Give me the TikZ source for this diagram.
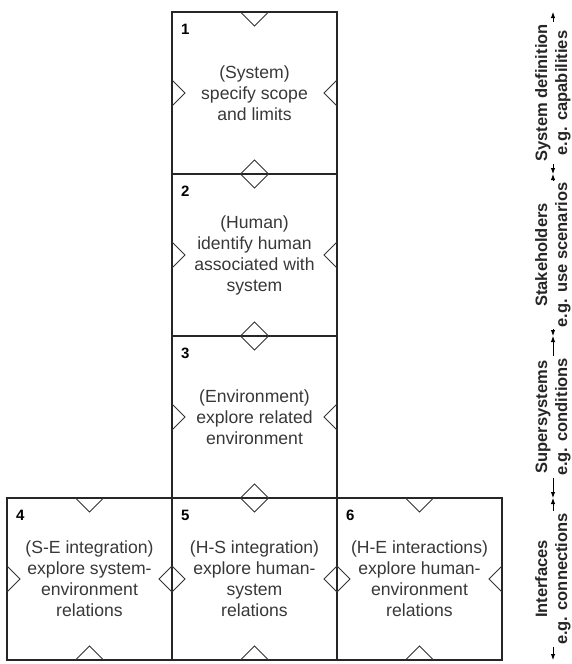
\documentclass[tikz,border=0pt]{standalone}
\usepackage{fontspec}
\setmainfont{Liberation Sans}
\usetikzlibrary{arrows.meta,positioning}

\begin{document}
\begin{tikzpicture}[
  node distance=0pt,
  box/.style={draw=black!85, line width=1.1pt, outer sep=0pt, inner sep=0pt,
              minimum width=165pt, minimum height=162pt, align=center,
              text=black!78, font=\fontsize{17.6}{21}\selectfont},
  num/.style={anchor=north west, inner sep=0pt, font=\fontsize{15}{15}\selectfont\bfseries},
  notch/.style={draw=black!80, line width=0.8pt},
  lab/.style={rotate=90, fill=white, inner sep=2pt, align=center,
              font=\fontsize{16.5}{20}\selectfont\bfseries, text=black!85},
  dim/.style={{Latex[length=6pt,width=4.5pt]}-{Latex[length=6pt,width=4.5pt]}, line width=0.9pt}
]
\useasboundingbox (-254.5pt,93pt) rectangle (317.5pt,-571pt);
% the six boxes
\node[box] (b1) at (0,0) {(System)\\specify scope\\and limits};
\node[box, below=of b1] (b2) {(Human)\\identify human\\associated with\\system};
\node[box, below=of b2] (b3) {(Environment)\\explore related\\environment};
\node[box, below=of b3] (b5) {(H-S integration)\\explore human-\\system\\relations};
\node[box, left=of b5]  (b4) {(S-E integration)\\explore system-\\environment\\relations};
\node[box, right=of b5] (b6) {(H-E interactions)\\explore human-\\environment\\relations};
% numbers
\node[num] (n1) at ([shift={(9pt,-12pt)}]b1.north west) {1};
\node[num] (n2) at ([shift={(9pt,-12pt)}]b2.north west) {2};
\node[num] (n3) at ([shift={(9pt,-12pt)}]b3.north west) {3};
\node[num] (n4) at ([shift={(9pt,-12pt)}]b4.north west) {4};
\node[num] (n5) at ([shift={(9pt,-12pt)}]b5.north west) {5};
\node[num] (n6) at ([shift={(9pt,-12pt)}]b6.north west) {6};
% notches on every side
\foreach \b in {b1,b2,b3,b4,b5,b6} {
  \draw[notch] ([xshift=-14pt]\b.north) -- ++(14pt,-14pt) -- ++(14pt,14pt);
  \draw[notch] ([xshift=-14pt]\b.south) -- ++(14pt,14pt) -- ++(14pt,-14pt);
  \draw[notch] ([yshift=13pt]\b.west) -- ++(13pt,-13pt) -- ++(-13pt,-13pt);
  \draw[notch] ([yshift=13pt]\b.east) -- ++(-13pt,-13pt) -- ++(13pt,-13pt);
}
% levels on the right
\coordinate (ax) at (298.5pt,0);
\draw[dim] (ax |- b1.north) -- (ax |- b1.south);
\draw[dim] (ax |- b2.north) -- (ax |- b2.south);
\draw[dim] (ax |- b3.north) -- (ax |- b3.south);
\draw[dim] (ax |- b5.north) -- (ax |- b5.south);
\node[lab] (l1) at (ax |- b1) {System definition\\e.g. capabilities};
\node[lab] (l2) at (ax |- b2) {Stakeholders\\e.g. use scenarios};
\node[lab] (l3) at (ax |- b3) {Supersystems\\e.g. conditions};
\node[lab] (l4) at (ax |- b5) {Interfaces\\e.g. connections};
\end{tikzpicture}
\end{document}
